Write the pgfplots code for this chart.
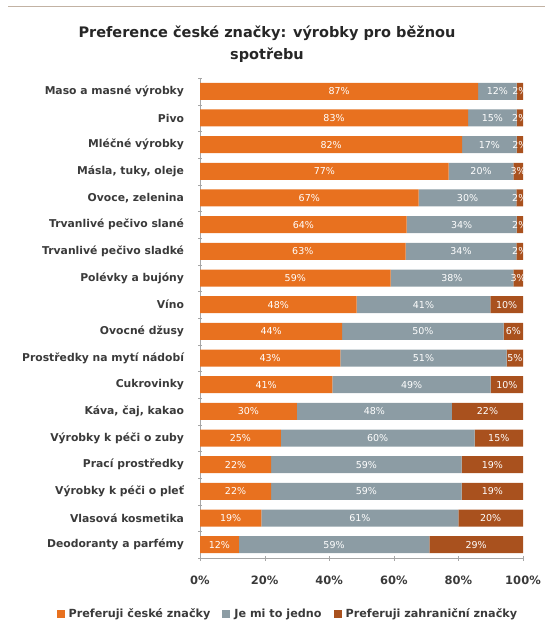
\documentclass[border=0pt]{standalone}
\usepackage{pgfplots}
\pgfplotsset{compat=1.18}
\usepackage{pgfplotstable}
\usepackage{fontspec}
\setmainfont{DejaVu Sans}

\definecolor{cz}{HTML}{E8711F}
\definecolor{jedno}{HTML}{8C9CA4}
\definecolor{zahr}{HTML}{A9511E}
\definecolor{txt}{HTML}{3A3A3A}

% idx: pořadí shora, hodnoty v %
\pgfplotstableread{
idx cz jedno zahr
1  87 12 2
2  83 15 2
3  82 17 2
4  77 20 3
5  67 30 2
6  64 34 2
7  63 34 2
8  59 38 3
9  48 41 10
10 44 50 6
11 43 51 5
12 41 49 10
13 30 48 22
14 25 60 15
15 22 59 19
16 22 59 19
17 19 61 20
18 12 59 29
}\data

\newcommand{\tot}{(\thisrow{cz}+\thisrow{jedno}+\thisrow{zahr})}

\pgfplotsset{
  base/.style={
    at={(200pt,70pt)}, anchor=south west,
    scale only axis, width=323pt, height=480pt,
    xmin=0, xmax=100, ymin=0.5, ymax=18.5,
    y dir=reverse,
    /pgf/number format/assume math mode=true,
  },
}

\begin{document}
\begin{tikzpicture}[x=1pt,y=1pt]
\path[use as bounding box] (0,0) rectangle (545,628);
\draw[color=gray!60!brown!60, line width=1pt] (8,621.5) -- (545,621.5);

\node[font=\fontsize{14.5}{22}\selectfont\bfseries, align=center, text=black!85]
  at (267,584) {Preference české značky: výrobky pro běžnou\\spotřebu};

\begin{axis}[
    base,
    xbar stacked,
    bar width=17pt,
    axis x line*=bottom,
    axis y line*=left,
    axis line style={draw=gray!70},
    xtick={0,20,...,100},
    xticklabel={\pgfmathprintnumber{\tick}\%},
    x tick label style={font=\fontsize{11.5}{13}\selectfont\bfseries, text=txt, yshift=-12pt},
    major x tick style={draw=gray!70},
    xtick align=center,
    major tick length=5pt,
    ytick={1,...,18},
    yticklabels={Maso a masné výrobky, Pivo, Mléčné výrobky, {Másla, tuky, oleje},
      {Ovoce, zelenina}, Trvanlivé pečivo slané, Trvanlivé pečivo sladké,
      Polévky a bujóny, Víno, Ovocné džusy, Prostředky na mytí nádobí,
      Cukrovinky, {Káva, čaj, kakao}, Výrobky k péči o zuby, Prací prostředky,
      Výrobky k péči o pleť, Vlasová kosmetika, Deodoranty a parfémy},
    y tick label style={font=\fontsize{10.8}{12}\selectfont\bfseries, text=txt},
    major y tick style={draw=none},
    minor ytick={0.5,1.5,...,18.5},
    minor y tick style={draw=gray!70},
    minor tick length=4pt,
    ytick align=center,
    yticklabel style={xshift=-10pt},
    legend style={at={(0.272,-0.117)}, anchor=center, draw=none, fill=none,
      legend columns=3, font=\fontsize{11.2}{12}\selectfont\bfseries, text=txt,
      /tikz/every even column/.append style={column sep=10pt},
      /tikz/every odd column/.append style={column sep=2pt}},
    legend cell align=left,
    legend image code/.code={\fill[#1] (0pt,-4pt) rectangle (8pt,4pt);},
    clip=true,
]
\addplot[fill=cz, draw=none] table[x expr={\thisrow{cz}*100/\tot}, y=idx] {\data};
\addplot[fill=jedno, draw=none] table[x expr={\thisrow{jedno}*100/\tot}, y=idx] {\data};
\addplot[fill=zahr, draw=none] table[x expr={\thisrow{zahr}*100/\tot}, y=idx] {\data};
\legend{Preferuji české značky, Je mi to jedno, Preferuji zahraniční značky}
\end{axis}

\begin{axis}[
    base, hide axis,
    nodes near coords={\pgfmathprintnumber{\pgfplotspointmeta}\%},
    every node near coord/.append style={anchor=center, text=white,
      font=\fontsize{9.5}{10}\selectfont},
    point meta=explicit,
]
\addplot[only marks, mark=none] table[x expr={\thisrow{cz}*50/\tot}, y=idx, meta=cz] {\data};
\addplot[only marks, mark=none] table[x expr={(\thisrow{cz}+\thisrow{jedno}/2)*100/\tot}, y=idx, meta=jedno] {\data};
\addplot[only marks, mark=none] table[x expr={100-\thisrow{zahr}*50/\tot}, y=idx, meta=zahr] {\data};
\end{axis}
\end{tikzpicture}
\end{document}
